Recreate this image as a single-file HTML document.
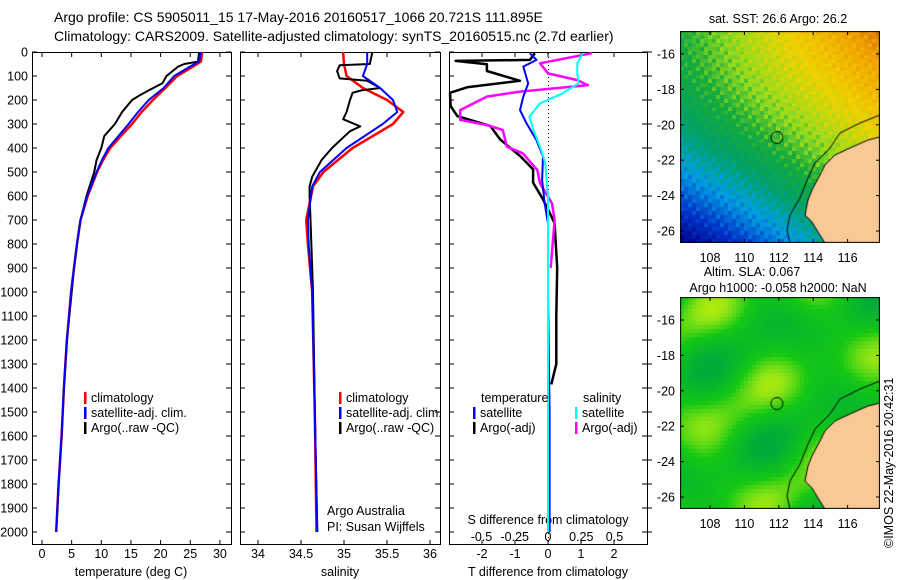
<!DOCTYPE html>
<html><head><meta charset="utf-8">
<style>
html,body{margin:0;padding:0;background:#fff;}
#wrap{position:relative;width:900px;height:580px;overflow:hidden;}
svg text{font-family:"Liberation Sans",sans-serif;font-size:12.5px;fill:#000;}
canvas{position:absolute;}
</style></head>
<body>
<div id="wrap">
<canvas id="sst" width="200" height="212" style="left:680px;top:31px"></canvas>
<canvas id="sla" width="200" height="212" style="left:680px;top:297px"></canvas>
<svg id="svg" width="900" height="580" style="position:absolute;left:0;top:0" xmlns="http://www.w3.org/2000/svg">
<text x="54" y="22" style="font-size:14px">Argo profile: CS 5905011_15 17-May-2016 20160517_1066 20.721S 111.895E</text>
<text x="54" y="41" style="font-size:14px">Climatology: CARS2009. Satellite-adjusted climatology: synTS_20160515.nc (2.7d earlier)</text>
<text x="131" y="576" text-anchor="middle">temperature (deg C)</text>
<text x="340" y="576" text-anchor="middle">salinity</text>
<text x="548" y="576" text-anchor="middle">T difference from climatology</text>
<text x="548" y="524" text-anchor="middle">S difference from climatology</text>
<text x="327" y="515">Argo Australia</text>
<text x="327" y="531">PI: Susan Wijffels</text>
<text x="778" y="23" text-anchor="middle">sat. SST: 26.6 Argo: 26.2</text>
<text x="752" y="276" text-anchor="middle">Altim. SLA: 0.067</text>
<text x="778" y="292" text-anchor="middle">Argo h1000: -0.058 h2000: NaN</text>
<text x="0" y="0" transform="translate(893,548) rotate(-90)">©IMOS 22-May-2016 20:42:31</text>
</svg>
</div>
<script>
// ---- data ----
const tDepth=[0,40,60,100,150,200,250,300,350,400,450,500,600,700,800,900,1000,1200,1400,1600,1800,2000];
const tClim=[27,26.8,25.5,22.8,20.8,18.7,16.8,15.2,13.3,11.5,10.3,9.3,7.7,6.5,5.9,5.4,4.9,4.2,3.7,3.3,2.8,2.4];
const tSat=[26.8,26.5,25,22.3,20.5,18,16.2,14.6,12.9,11.2,10.1,9.2,7.6,6.5,5.9,5.4,4.9,4.2,3.7,3.3,2.8,2.4];
const tArgoDepth=[0,40,50,60,100,130,160,180,200,250,300,350,400,450,500,600,700,800,900,1000,1200,1400,1600,1800,2000];
const tArgo=[26.5,26.3,24,23,21,20.3,18,16.5,15.2,13.5,12.3,10.5,10,9.2,8.8,7.5,6.5,5.9,5.4,5.0,4.2,3.7,3.3,2.8,2.4];
const sDepth=[0,50,100,150,200,250,300,400,500,560,700,800,1000,1500,2000];
const sClim=[34.99,35.0,35.03,35.22,35.5,35.69,35.57,35.1,34.76,34.64,34.56,34.58,34.63,34.66,34.68];
const sSat=[35.27,35.27,35.22,35.42,35.57,35.62,35.45,35.03,34.72,34.63,34.58,34.59,34.63,34.66,34.69];
const sArgoDepth=[0,50,55,80,110,120,150,160,170,200,250,280,310,330,400,450,520,560,600,700,900,1000,1500,2000];
const sArgo=[35.33,35.3,34.95,34.92,34.95,35.27,35.42,35.2,35.1,35.07,35.03,34.99,35.19,35.07,34.86,34.74,34.63,34.6,34.6,34.61,34.63,34.64,34.66,34.69];
const dTArgoDepth=[5,33,37,51,79,120,147,170,225,267,308,364,433,489,544,614,669,714,900,1100,1300,1385];
const dTArgo=[-0.4,-0.55,-2.8,-1.85,-1.85,-0.85,-2.45,-3,-2.95,-2.75,-1.75,-1.45,-0.85,-0.45,-0.45,-0.15,0.05,0.2,0.28,0.25,0.25,0.1];
const dTSatDepth=[5,33,61,131,186,242,297,367,436,533,631,714,1000,1500,2000];
const dTSat=[-0.55,-0.35,-0.75,-0.6,-0.75,-0.85,-0.65,-0.35,-0.15,-0.18,-0.1,0,0,0.05,0.05];
const dSArgoDepth=[5,47,89,117,138,165,186,242,283,304,325,394,422,492,547,631,700,900];
const dSArgo=[0.33,-0.06,0,0.22,0.3,-0.21,-0.46,-0.66,-0.66,-0.46,-0.34,-0.31,-0.19,-0.08,-0.06,0.03,0.05,0.02];
const dSSatDepth=[5,47,89,131,172,214,269,325,394,464,603,1000,1500,2000];
const dSSat=[0.26,0.22,0.22,0.23,0.11,-0.06,-0.14,-0.11,-0.06,-0.02,0,0,0,0];
const depthTicks=[0,100,200,300,400,500,600,700,800,900,1000,1100,1200,1300,1400,1500,1600,1700,1800,1900,2000];
const tTicks=[0,5,10,15,20,25,30];
const sTicks=[34,34.5,35,35.5,36];
const dTTicks=[-2,-1,0,1,2];
const dSTicks=[-0.5,-0.25,0,0.25,0.5];
const dSTickLabels=["-0.5","-0.25","0","0.25","0.5"];
const lonTicks=[108,110,112,114,116];
const latTicks=[-16,-18,-20,-22,-24,-26];
const argoLon=111.895, argoLat=-20.721;

// ---- scales ----
const yD=d=>52+d*0.24;
const xT=t=>42+t*5.93;
const xS=s=>258+(s-34)*86;
const xDT=v=>548+v*33;
const xDS=v=>548+v*133;
const mLon=l=>30+(l-108)*17.2;
const mLat=l=>23+(-16-l)*17.7;

const NS="http://www.w3.org/2000/svg";
const svg=document.getElementById('svg');
function mk(tag,attrs){const e=document.createElementNS(NS,tag);for(const k in attrs)e.setAttribute(k,attrs[k]);svg.appendChild(e);return e;}

const panels=[[32,231],[240,440],[449,647]];
panels.forEach((p,i)=>{
  const r=mk('rect',{x:p[0]+0.5,y:52.5,width:p[1]-p[0],height:492,fill:'none',stroke:'#000','stroke-width':1});
  
  
});
depthTicks.forEach(d=>{
  const y=yD(d);
  const tl=mk('text',{x:28,y:y+4.5,'text-anchor':'end'});tl.textContent=d;
  
  
  panels.forEach(p=>{
    mk('line',{x1:p[0],x2:p[0]+5,y1:y,y2:y,stroke:'#000'});
    mk('line',{x1:p[1]-5,x2:p[1],y1:y,y2:y,stroke:'#000'});
  });
  mk('line',{x1:647,x2:652,y1:y,y2:y,stroke:'#000'});
});
function xticks(ticks,labels,f,p,ly){
  ticks.forEach((t,i)=>{const x=f(t);
    mk('line',{x1:x,x2:x,y1:52,y2:57,stroke:'#000'});
    mk('line',{x1:x,x2:x,y1:540,y2:545,stroke:'#000'});
    const tx=mk('text',{x:x,y:ly,'text-anchor':'middle'});tx.textContent=labels[i];
    
    
  });
}
xticks(tTicks,tTicks,xT,panels[0],558);
xticks(sTicks,sTicks,xS,panels[1],558);
xticks(dTTicks,dTTicks,xDT,panels[2],558);
dSTicks.forEach((t,i)=>{const tx=mk('text',{x:xDS(t),y:541,'text-anchor':'middle'});tx.textContent=dSTickLabels[i];
  
  });
const zl=mk('line',{x1:548.5,x2:548.5,y1:53,y2:544,stroke:'#000','stroke-dasharray':'1,3'});



function series(depths,vals,fx,color,w,name,clip){
  const pts=depths.map((d,i)=>{let x=fx(vals[i]);if(clip)x=Math.max(clip[0],Math.min(clip[1],x));return x.toFixed(1)+','+yD(d).toFixed(1);}).join(' ');
  const pl=mk('polyline',{points:pts,fill:'none',stroke:color,'stroke-width':w,'stroke-linejoin':'round'});
  
  
}
series(tDepth,tClim,xT,'#f00',2.5,'temp-climatology-line');
series(tArgoDepth,tArgo,xT,'#000',2,'temp-argo-line');
series(tDepth,tSat,xT,'#00f',2,'temp-satellite-line');
series(sDepth,sClim,xS,'#f00',2.5,'salinity-climatology-line');
series(sArgoDepth,sArgo,xS,'#000',2,'salinity-argo-line');
series(sDepth,sSat,xS,'#00f',2,'salinity-satellite-line');
const c3=[450,646];
series(dTArgoDepth,dTArgo,xDT,'#000',2.5,'t-diff-argo-line',c3);
series(dSArgoDepth,dSArgo,xDS,'#f0f',2.5,'s-diff-argo-line',c3);
series(dTSatDepth,dTSat,xDT,'#00f',2,'t-diff-satellite-line',c3);
series(dSSatDepth,dSSat,xDS,'#0ff',2,'s-diff-satellite-line',c3);

function leg(x,y,color,label,name){
  mk('rect',{x:x,y:y-10,width:2.5,height:12,fill:color});
  const t=mk('text',{x:x+7,y:y});t.textContent=label;
  
  
}
leg(84,402,'#f00','climatology','legend-entry-climatology');
leg(84,417,'#00f','satellite-adj. clim.','legend-entry-satellite-adj');
leg(84,432,'#000','Argo(..raw -QC)','legend-entry-argo');
leg(339,402,'#f00','climatology','legend-entry-climatology-2');
leg(339,417,'#00f','satellite-adj. clim.','legend-entry-satellite-adj-2');
leg(339,432,'#000','Argo(..raw -QC)','legend-entry-argo-2');
const lt=mk('text',{x:481,y:402});lt.textContent='temperature';


const ls=mk('text',{x:583,y:402});ls.textContent='salinity';


leg(473,417,'#00f','satellite','legend-entry-t-satellite');
leg(473,432,'#000','Argo(-adj)','legend-entry-t-argo');
leg(575,417,'#0ff','satellite','legend-entry-s-satellite');
leg(575,432,'#f0f','Argo(-adj)','legend-entry-s-argo');

// ---- maps ----
const land=[[200,106],[188,109],[170,117],[155,124],[145,134],[140,144],[132,159],[128,169],[125,184],[132,191],[138,201],[145,212],[200,212]];
const coast=[[200,84],[180,92],[160,102],[150,117],[135,132],[128,147],[120,167],[110,184],[107,199],[110,212]];
function cmap(v,stops){v=Math.max(0,Math.min(1,v));for(let i=1;i<stops.length;i++){if(v<=stops[i][0]){const a=stops[i-1],b=stops[i],f=(v-a[0])/(b[0]-a[0]||1);return 'rgb('+[0,1,2].map(k=>Math.round(a[1][k]+(b[1][k]-a[1][k])*f)).join(',')+')';}}return 'rgb('+stops[stops.length-1][1].join(',')+')';}
const sstStops=[[0,[0,0,130]],[0.15,[0,50,200]],[0.3,[0,160,225]],[0.4,[0,160,110]],[0.5,[20,170,60]],[0.6,[150,220,30]],[0.72,[240,210,0]],[0.86,[240,160,0]],[1,[190,80,0]]];
const slaStops=[[0,[0,170,60]],[0.5,[20,200,20]],[0.8,[150,230,20]],[1,[220,240,0]]];
function drawMap(id,field,stops){
  const cv=document.getElementById(id),g=cv.getContext('2d');
  const cs=4;
  for(let j=0;j<53;j++)for(let i=0;i<50;i++){
    const lx=i/50,ly=j/53;g.fillStyle=cmap(field(lx,ly,i,j),stops);g.fillRect(i*cs,j*cs,cs,cs);}
  g.fillStyle='#f9c995';g.beginPath();land.forEach((p,k)=>k?g.lineTo(p[0],p[1]):g.moveTo(p[0],p[1]));g.closePath();g.fill();
  g.strokeStyle='#000';g.lineWidth=1;g.beginPath();land.slice(0,-1).forEach((p,k)=>k?g.lineTo(p[0],p[1]):g.moveTo(p[0],p[1]));g.stroke();
  g.beginPath();coast.forEach((p,k)=>k?g.lineTo(p[0],p[1]):g.moveTo(p[0],p[1]));g.stroke();
  g.beginPath();g.arc(mLon(argoLon),mLat(argoLat),6,0,7);g.stroke();
  g.strokeRect(0.5,0.5,199,211);
}
drawMap('sst',(x,y,i,j)=>0.5+0.42*x*(1-y)-0.5*y*y*(1-x)+0.025*Math.sin(i*1.7+j*2.3)+0.02*Math.cos(i*3.1-j*1.3),sstStops);
drawMap('sla',(x,y,i,j)=>0.45+0.25*Math.sin(x*11)*Math.cos(y*9)+0.2*Math.sin(x*5+y*13),slaStops);
[31,297].forEach((top)=>{
  lonTicks.forEach(l=>{const x=680+mLon(l);
    mk('line',{x1:x,x2:x,y1:top,y2:top+4,stroke:'#000'});mk('line',{x1:x,x2:x,y1:top+208,y2:top+212,stroke:'#000'});
    const t=mk('text',{x:x,y:top+231,'text-anchor':'middle'});t.textContent=l;
    
    });
  latTicks.forEach(l=>{const y=top+mLat(l);
    mk('line',{x1:680,x2:684,y1:y,y2:y,stroke:'#000'});mk('line',{x1:876,x2:880,y1:y,y2:y,stroke:'#000'});
    const t=mk('text',{x:675,y:y+4.5,'text-anchor':'end'});t.textContent=l;
    
    });
});
</script>
</body></html>
